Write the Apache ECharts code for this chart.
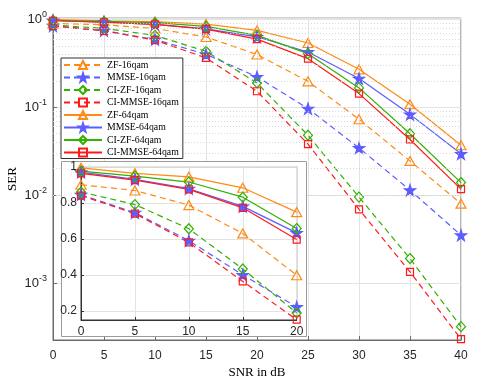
<!DOCTYPE html>
<html><head><meta charset="utf-8">
<script src="https://cdn.jsdelivr.net/npm/echarts@6/dist/echarts.min.js"></script>
<style>html,body{margin:0;padding:0;background:#fff}#c{width:484px;height:387px}</style>
</head><body><div id="c"></div>
<script>
const snr = [0, 5, 10, 15, 20, 25, 30, 35, 40];
const insetSnr = [0, 5, 10, 15, 20];
const names = ['ZF-16qam','MMSE-16qam','CI-ZF-16qam','CI-MMSE-16qam','ZF-64qam','MMSE-64qam','CI-ZF-64qam','CI-MMSE-64qam'];
const zf16     = [0.90, 0.868, 0.787, 0.63, 0.398, 0.197, 0.073, 0.0245, 0.0080];
const mmse16   = [0.845, 0.745, 0.59, 0.40, 0.222, 0.0966, 0.0344, 0.0114, 0.0035];
const cizf16   = [0.86, 0.79, 0.656, 0.433, 0.189, 0.048, 0.0095, 0.0019, 0.000319];
const cimmse16 = [0.84, 0.74, 0.58, 0.364, 0.152, 0.038, 0.0069, 0.00134, 0.00023];
const zf64     = [0.994, 0.963, 0.944, 0.883, 0.748, 0.538, 0.270, 0.108, 0.037];
const mmse64   = [0.97, 0.93, 0.878, 0.78, 0.633, 0.425, 0.212, 0.083, 0.0295];
const cizf64   = [0.976, 0.948, 0.915, 0.831, 0.657, 0.407, 0.166, 0.050, 0.0139];
const cimmse64 = [0.963, 0.926, 0.874, 0.772, 0.596, 0.357, 0.143, 0.043, 0.0117];
const mainYTicks = [1, 0.1, 0.01, 0.001];
const insetYTicks = [0.2, 0.4, 0.6, 0.8, 1];

const ORANGE = '#ff8a14', BLUE = '#5c5cff', GREEN = '#33b000', RED = '#ff1a1a';
const STAR = 'path://M50,0 L61.2,34.5 L97.6,34.5 L68.2,55.9 L79.4,90.5 L50,69.1 L20.6,90.5 L31.8,55.9 L2.4,34.5 L38.8,34.5 Z';
const defs = [
  {d: zf16, c: ORANGE, s: 'triangle', sz: [10, 9], dash: true, fill: false},
  {d: mmse16, c: BLUE, s: STAR, sz: [11, 11], dash: true, fill: true},
  {d: cizf16, c: GREEN, s: 'diamond', sz: [9, 10], dash: true, fill: false},
  {d: cimmse16, c: RED, s: 'rect', sz: [7, 7], dash: true, fill: false},
  {d: zf64, c: ORANGE, s: 'triangle', sz: [10, 9], dash: false, fill: false},
  {d: mmse64, c: BLUE, s: STAR, sz: [11, 11], dash: false, fill: true},
  {d: cizf64, c: GREEN, s: 'diamond', sz: [9, 10], dash: false, fill: false},
  {d: cimmse64, c: RED, s: 'rect', sz: [7, 7], dash: false, fill: false}
];

const minor = [];
for (let e = -4; e <= -1; e++) for (let k = 2; k <= 9; k++) {
  const v = k * Math.pow(10, e);
  if (v > 2.25e-4 && v < 1) minor.push({yAxis: v});
}

const series = [];
defs.forEach((o, i) => {
  const base = (xi, z) => ({
    name: names[i], type: 'line',
    xAxisIndex: xi, yAxisIndex: xi,
    z: z,
    symbol: o.s, symbolSize: o.sz, showSymbol: true,
    lineStyle: {color: o.c, width: 1.2, type: o.dash ? [6, 4] : 'solid'},
    itemStyle: {color: o.fill ? o.c : 'rgba(255,255,255,0)', borderColor: o.c, borderWidth: 1.2},
    emphasis: {disabled: true},
    animation: false,
    clip: false
  });
  const m = base(0, 2);
  m.data = snr.map((x, j) => [x, o.d[j]]);
  if (i === 0) {
    m.markLine = {silent: true, symbol: 'none', label: {show: false}, animation: false,
      lineStyle: {color: '#cfcfcf', type: [1, 2], width: 0.8}, data: minor};
  }
  series.push(m);
  const s = base(1, 12);
  s.data = insetSnr.map((x, j) => [x, o.d[j]]);
  series.push(s);
});

const axisTxt = {fontFamily: 'Liberation Sans', fontSize: 12, color: '#262626'};
const chart = echarts.init(document.getElementById('c'), null, {renderer: 'canvas'});
chart.setOption({
  animation: false,
  backgroundColor: '#fff',
  graphic: [{type: 'rect', z: 8, silent: true,
    shape: {x: 61.5, y: 161.5, width: 245, height: 175},
    style: {fill: '#fff', stroke: '#9a9a9a', lineWidth: 1}}],
  legend: {
    z: 20, orient: 'vertical', left: 61, top: 58,
    data: names,
    backgroundColor: '#fff', borderColor: '#333', borderWidth: 1,
    padding: [2, 4, 1, 2], itemWidth: 38, itemHeight: 10, itemGap: 2.5,
    textStyle: {fontFamily: 'Liberation Serif', fontSize: 9.8, color: '#000'},
    selectedMode: false
  },
  grid: [
    {left: 53, right: 23, top: 18.2, bottom: 47, show: true, containLabel: false, outerBoundsMode: 'none',
      borderColor: '#6b6b6b', borderWidth: 1, backgroundColor: 'transparent'},
    {left: 81, right: 187.3, top: 166.7, bottom: 67, show: true, containLabel: false, outerBoundsMode: 'none',
      borderColor: '#333', borderWidth: 1, backgroundColor: 'transparent', z: 10}
  ],
  xAxis: [
    {type: 'value', gridIndex: 0, min: 0, max: 40, interval: 5,
      name: 'SNR in dB', nameLocation: 'middle', nameGap: 26, nameMoveOverlap: false,
      nameTextStyle: {fontFamily: 'Liberation Serif', fontSize: 13, color: '#000'},
      axisLine: {show: true, lineStyle: {color: '#6b6b6b'}},
      axisTick: {show: true, inside: true, length: 4, lineStyle: {color: '#6b6b6b'}},
      axisLabel: Object.assign({margin: 10}, axisTxt),
      splitLine: {show: true, lineStyle: {color: '#e3e3e3', width: 1}}},
    {type: 'value', gridIndex: 1, min: 0, max: 20, interval: 5, z: 10,
      axisLine: {show: true, lineStyle: {color: '#333'}},
      axisTick: {show: true, inside: true, length: 3, lineStyle: {color: '#333'}},
      axisLabel: Object.assign({margin: 6}, axisTxt),
      splitLine: {show: true, lineStyle: {color: '#e3e3e3', width: 1}}}
  ],
  yAxis: [
    {type: 'log', logBase: 10, gridIndex: 0, min: 2.25e-4, max: 1.03,
      name: 'SER', nameLocation: 'middle', nameGap: 34, nameMoveOverlap: false,
      nameTextStyle: {fontFamily: 'Liberation Serif', fontSize: 13, color: '#000'},
      axisLine: {show: true, lineStyle: {color: '#6b6b6b'}},
      axisTick: {show: true, inside: true, length: 4, lineStyle: {color: '#6b6b6b'}},
      axisLabel: {showMinLabel: false, showMaxLabel: false, margin: 6,
        formatter: v => {
          const e = Math.round(Math.log10(v));
          return mainYTicks.some(t => Math.abs(Math.log10(t) - Math.log10(v)) < 1e-6) ? '{b|10}{s|' + e + '}' : '';
        },
        rich: {b: {fontFamily: 'Liberation Sans', fontSize: 13, color: '#262626'},
               s: {fontFamily: 'Liberation Sans', fontSize: 9, color: '#262626', verticalAlign: 'top', padding: [0, 0, 9, 0]}}},
      splitLine: {show: true, lineStyle: {color: '#e3e3e3', width: 1}}},
    {type: 'value', gridIndex: 1, min: 0.15, max: 1, z: 10,
      axisLine: {show: true, lineStyle: {color: '#333'}},
      axisTick: {show: true, inside: true, length: 3, lineStyle: {color: '#333'}},
      axisLabel: Object.assign({margin: 4, showMinLabel: false,
        formatter: v => insetYTicks.some(t => Math.abs(t - v) < 1e-6) ? String(+v.toFixed(2)) : ''}, axisTxt),
      splitLine: {show: true, lineStyle: {color: '#e3e3e3', width: 1}}}
  ],
  series: series
});
</script></body></html>
